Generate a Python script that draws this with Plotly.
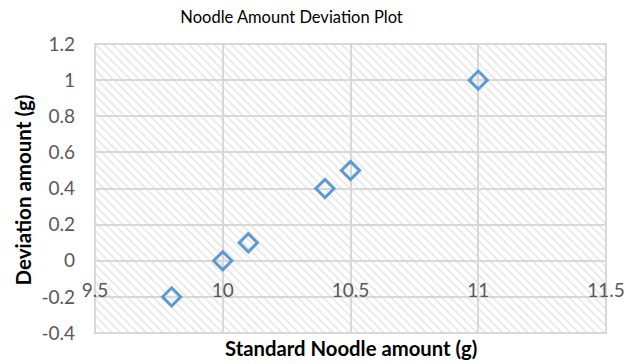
import plotly.graph_objects as go

# Measured noodle amounts and their deviations
standard_amount = [9.8, 10.0, 10.1, 10.4, 10.5, 11.0]
deviation = [-0.2, 0.0, 0.1, 0.4, 0.5, 1.0]

x_ticks = [9.5, 10, 10.5, 11, 11.5]
x_tick_text = ["9.5", "10", "10.5", "11", "11.5"]
y_ticks = [-0.4, -0.2, 0, 0.2, 0.4, 0.6, 0.8, 1.0, 1.2]
y_tick_text = ["-0.4", "-0.2", "0", "0.2", "0.4", "0.6", "0.8", "1", "1.2"]

x_range = [9.5, 11.5]
y_range = [-0.4, 1.2]

FONT = "Lato"
GRID = "#d9d9d9"
TICK_COLOR = "#595959"

fig = go.Figure()

# Hatched plot-area background
fig.add_trace(go.Scatter(
    x=[x_range[0], x_range[1], x_range[1], x_range[0], x_range[0]],
    y=[y_range[0], y_range[0], y_range[1], y_range[1], y_range[0]],
    mode="lines",
    line=dict(width=0),
    fill="toself",
    fillcolor="rgba(0,0,0,0)",
    fillpattern=dict(shape="\\", fgcolor="#d0d0d0", bgcolor="rgba(0,0,0,0)",
                     size=6, solidity=0.3),
    hoverinfo="skip",
    showlegend=False,
))

fig.add_trace(go.Scatter(
    x=standard_amount,
    y=deviation,
    mode="markers",
    marker=dict(symbol="diamond-open", size=14, color="#5b9bd5",
                line=dict(width=3, color="#5b9bd5")),
    showlegend=False,
))

# x axis crosses the y axis at 0
x_pos = (0 - y_range[0]) / (y_range[1] - y_range[0])

fig.update_layout(
    width=638,
    height=364,
    margin=dict(l=95, r=32, t=44, b=31),
    paper_bgcolor="white",
    plot_bgcolor="white",
    font=dict(family=FONT, size=15, color=TICK_COLOR),
    title=dict(text="Noodle Amount Deviation Plot", x=0.457, xanchor="center",
               y=0.953, yanchor="middle",
               font=dict(family=FONT, size=16.5, color="#000000")),
    xaxis=dict(
        range=x_range,
        tickvals=x_ticks,
        ticktext=x_tick_text,
        showgrid=True,
        gridcolor=GRID,
        gridwidth=2,
        zeroline=False,
        showline=False,
        anchor="free",
        position=x_pos,
        ticks="",
        ticklabelstandoff=16,
        tickfont=dict(family=FONT, size=19, color=TICK_COLOR),
    ),
    yaxis=dict(
        range=y_range,
        tickvals=y_ticks,
        ticktext=y_tick_text,
        showgrid=True,
        gridcolor=GRID,
        gridwidth=2,
        zeroline=False,
        showline=False,
        ticks="",
        ticklabelstandoff=19,
        tickfont=dict(family=FONT, size=19, color=TICK_COLOR),
    ),
    shapes=[dict(type="rect", xref="paper", yref="paper", x0=0, x1=1, y0=0, y1=1,
                 line=dict(color=GRID, width=2), layer="below")],
    annotations=[
        dict(text="<b>Standard Noodle amount (g)</b>", xref="paper", yref="paper",
             x=0.5, y=0, xanchor="center", yanchor="middle", showarrow=False,
             yshift=-15,
             font=dict(family=FONT, size=20.3, color="#000000")),
        dict(text="<b>Deviation amount (g)</b>", xref="paper", yref="paper",
             x=0, y=0.5, xanchor="center", yanchor="middle", showarrow=False,
             xshift=-73, yshift=-2, textangle=-90,
             font=dict(family=FONT, size=20.5, color="#000000")),
    ],
)

fig.write_html("out.html")
